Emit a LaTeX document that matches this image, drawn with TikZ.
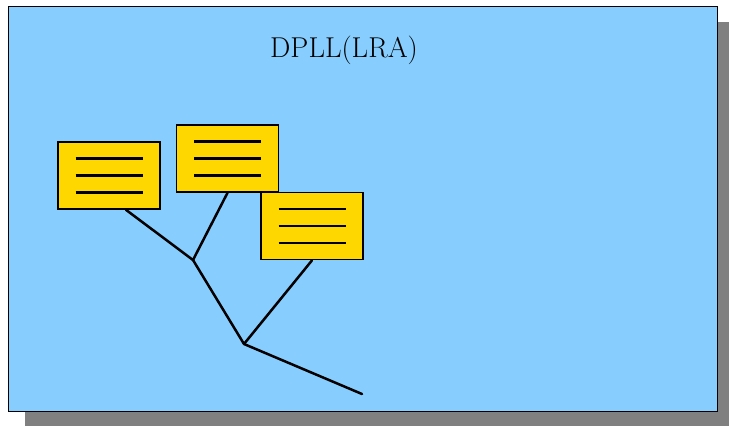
\documentclass[tikz,border=0pt]{standalone}
\usetikzlibrary{calc}
\definecolor{bgblue}{RGB}{135,206,255}
\definecolor{boxgold}{RGB}{255,215,0}
\definecolor{shadowgray}{RGB}{128,128,128}
\tikzset{
  clause/.style={draw=black, fill=boxgold, line width=1.7pt, minimum width=102pt, minimum height=67pt, inner sep=0pt},
  branch/.style={line width=2.5pt, line cap=round},
  textline/.style={line width=2.1pt}
}
\newcommand{\clauselines}[1]{%
  \draw[textline] ($(#1.center)+(-33.5,-17)$) -- ($(#1.center)+(33.5,-17)$);
  \draw[textline] ($(#1.center)+(-33.5,0)$) -- ($(#1.center)+(33.5,0)$);
  \draw[textline] ($(#1.center)+(-33.5,17)$) -- ($(#1.center)+(33.5,17)$);
}
\begin{document}
\begin{tikzpicture}[x=1pt,y=-1pt]
\useasboundingbox (0,0) rectangle (729,426);
\fill[shadowgray] (25,22) rectangle (740,440);
\draw[fill=bgblue, line width=0.9pt] (8,6) rectangle (717,411);
\node[font=\fontsize{28.7}{34}\selectfont, anchor=base] (title) at (344,57) {DPLL(LRA)};
\node[clause] (b1) at (109,175.5) {};
\node[clause] (b2) at (227.5,158.5) {};
\node[clause] (b3) at (312,226) {};
\clauselines{b1}
\clauselines{b2}
\clauselines{b3}
\coordinate (j1) at (193,260);
\coordinate (j2) at (244,344);
\coordinate (e) at (362,394);
\draw[branch] ([xshift=17pt]b1.south) -- (j1);
\draw[branch] (b2.south) -- (j1);
\draw[branch] (j1) -- (j2);
\draw[branch] (b3.south) -- (j2);
\draw[branch] (j2) -- (e);
\end{tikzpicture}
\end{document}
